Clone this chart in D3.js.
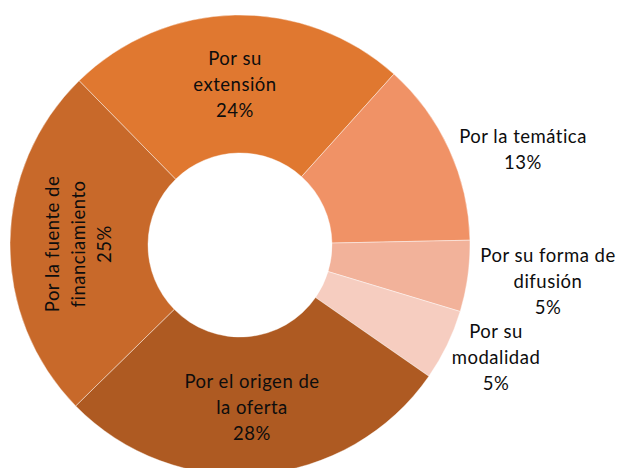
<!DOCTYPE html>
<html>
<head>
<meta charset="utf-8">
<script src="https://cdn.jsdelivr.net/npm/d3@7"></script>
<style>
  html, body { margin: 0; padding: 0; background: #fff; }
  svg text { font-family: Lato, "Open Sans", sans-serif; fill: #0d0d0d; letter-spacing: 0.5px; }
</style>
</head>
<body>
<svg id="chart" width="620" height="468"></svg>
<script>
// Categories, in clockwise drawing order
const categories = [
  "Por su extensión",
  "Por la temática",
  "Por su forma de difusión",
  "Por su modalidad",
  "Por el origen de la oferta",
  "Por la fuente de financiamiento"
];
// Share of each category (%)
const values = [24, 13, 5, 5, 28, 25];
// Line breaks of each label's name
const labelLines = [
  ["Por su", "extensión"],
  ["Por la temática"],
  ["Por su forma de", "difusión"],
  ["Por su", "modalidad"],
  ["Por el origen de", "la oferta"],
  ["Por la fuente de", "financiamiento"]
];

const colors = ["#E07830", "#F09266", "#F2B29A", "#F6CDC0", "#AE5A22", "#C8692A"];

// Label placement: centre x, first baseline y, rotation
const labelPos = [
  { x: 235, y: 65, rot: 0 },
  { x: 523, y: 143, rot: 0 },
  { x: 548, y: 262, rot: 0 },
  { x: 496, y: 338, rot: 0 },
  { x: 252, y: 388, rot: 0 },
  { x: 59, y: 244, rot: -90 }
];

const width = 620, height = 468;
const cx = 240, cy = 245;
const outerR = 230, innerR = 92;
const lineH = 26;
const fontSize = 18.5;

const svg = d3.select("#chart");
const data = categories.map((c, i) => ({ name: c, value: values[i], i }));

const start = -44.4 * Math.PI / 180;
const pie = d3.pie().value(d => d.value).sort(null)
  .startAngle(start).endAngle(start + 2 * Math.PI);
const arc = d3.arc().innerRadius(innerR).outerRadius(outerR);

const g = svg.append("g").attr("transform", `translate(${cx},${cy})`);
g.selectAll("path")
  .data(pie(data))
  .join("path")
  .attr("d", arc)
  .attr("fill", d => colors[d.data.i])
  .attr("stroke", "#ffffff")
  .attr("stroke-opacity", 0.6)
  .attr("stroke-width", 0.7);

// Data labels: name lines followed by the percentage
const labels = svg.selectAll("g.label")
  .data(data)
  .join("g")
  .attr("class", "label")
  .attr("transform", d => {
    const p = labelPos[d.i];
    return `translate(${p.x},${p.y}) rotate(${p.rot})`;
  });

labels.each(function(d) {
  const lines = labelLines[d.i].concat([d.value + "%"]);
  d3.select(this).selectAll("text")
    .data(lines)
    .join("text")
    .attr("x", 0)
    .attr("y", (t, k) => k * lineH)
    .attr("text-anchor", "middle")
    .attr("font-size", fontSize)
    .text(t => t);
});
</script>
</body>
</html>
